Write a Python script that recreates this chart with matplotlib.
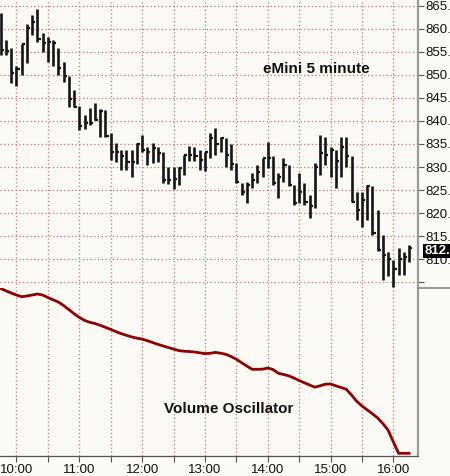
import numpy as np
import matplotlib.pyplot as plt
from matplotlib.lines import Line2D
from matplotlib.patches import Rectangle
from matplotlib.ticker import FixedLocator, FuncFormatter

# eMini 5 minute bars starting 09:45 (high / low / close)
highs = [863.4, 857.5, 855.7, 851.8, 856.6, 860.9, 862.9, 864.2, 859.0, 858.1,
         857.5, 855.9, 852.8, 849.7, 846.7, 843.2, 841.3, 842.7, 843.8, 842.5,
         842.4, 837.3, 835.2, 833.7, 833.6, 833.6, 835.3, 837.0, 834.4, 835.2,
         834.4, 833.3, 830.0, 830.0, 830.0, 832.6, 834.6, 834.4, 833.7, 833.3,
         837.3, 838.4, 836.6, 836.4, 835.0, 830.8, 826.5, 826.8, 828.7, 830.5,
         831.9, 835.5, 832.3, 828.7, 831.9, 830.5, 826.1, 828.7, 826.5, 824.0,
         830.8, 837.0, 836.5, 834.4, 833.7, 836.5, 836.5, 832.3, 824.5, 824.5,
         826.1, 825.8, 820.6, 815.3, 811.7, 809.9, 812.4, 811.7, 813.1]
lows = [854.3, 854.3, 848.2, 847.6, 850.0, 852.6, 858.6, 857.0, 854.9, 852.8,
        852.0, 850.0, 848.5, 843.0, 843.0, 838.0, 838.2, 839.1, 840.1, 836.6,
        836.5, 831.5, 831.2, 829.4, 829.4, 827.8, 830.7, 833.3, 830.5, 830.8,
        831.2, 826.5, 826.3, 825.3, 826.1, 828.2, 831.4, 831.4, 829.4, 829.2,
        831.9, 832.6, 833.3, 830.1, 829.4, 826.5, 824.0, 822.2, 825.4, 826.5,
        827.9, 829.7, 826.1, 823.3, 826.8, 825.8, 821.8, 822.2, 821.8, 818.9,
        821.1, 828.3, 830.5, 827.9, 825.4, 827.9, 830.1, 822.5, 818.6, 817.1,
        818.6, 815.3, 811.9, 805.6, 806.3, 804.1, 806.6, 806.6, 809.5]
closes = [855.4, 855.2, 850.4, 851.3, 856.6, 860.1, 861.5, 857.7, 856.9, 857.2,
          856.9, 851.4, 849.7, 844.7, 843.1, 838.8, 839.5, 839.5, 840.1, 842.2,
          836.8, 833.2, 833.2, 832.3, 831.2, 831.2, 835.0, 833.7, 833.3, 834.1,
          833.0, 827.1, 827.2, 827.4, 829.7, 832.6, 832.6, 832.3, 831.5, 833.3,
          836.2, 835.0, 836.2, 832.6, 830.6, 826.7, 824.6, 826.1, 827.1, 828.9,
          831.9, 832.0, 826.5, 827.8, 830.5, 826.1, 822.2, 824.7, 822.4, 821.6,
          830.0, 833.0, 832.6, 833.6, 831.4, 834.4, 832.3, 822.5, 820.6, 822.9,
          825.8, 815.8, 812.1, 810.9, 810.0, 807.9, 810.0, 810.6, 812.4]
osc = [167.5, 165.2, 163.0, 161.0, 159.3, 160.0, 161.0, 162.0, 161.0, 158.5,
       156.2, 154.0, 150.5, 146.5, 142.3, 138.6, 135.6, 133.7, 132.5, 130.7,
       128.7, 126.6, 124.4, 122.4, 120.7, 119.1, 117.9, 116.9, 115.3, 113.5,
       111.7, 110.1, 108.5, 107.0, 105.4, 104.8, 104.5, 104.0, 103.2, 102.4,
       102.7, 103.6, 102.8, 101.7, 99.5, 96.8, 93.3, 90.0, 86.7, 86.7,
       86.8, 88.0, 86.5, 82.8, 81.5, 80.2, 78.0, 75.5, 73.2, 71.0,
       68.8, 70.2, 71.8, 72.0, 70.2, 68.5, 66.8, 61.0, 54.7, 50.0,
       46.1, 42.2, 38.0, 32.4, 25.7, 14.0, 2.7, 2.7, 2.7]
price_ticks = [810, 815, 820, 825, 830, 835, 840, 845, 850, 855, 860, 865]
hour_labels = ['10:00', '11:00', '12:00', '13:00', '14:00', '15:00', '16:00']
last_price = 812.25

plt.rcParams['font.family'] = ['Liberation Sans', 'DejaVu Sans']

bg = '#fbfaf5'
grid_col = '#d27373'
spine_col = '#9a9a9a'

t = 9 * 60 + 45 + 5 * np.arange(len(closes))  # minutes of day
hours = [600 + 60 * k for k in range(len(hour_labels))]
halves = [630 + 60 * k for k in range(len(hour_labels))]

fig = plt.figure(figsize=(4.5, 4.76), dpi=100)
fig.patch.set_facecolor(bg)
ax = fig.add_axes([0, 188 / 476, 418 / 450, 288 / 476])
ax2 = fig.add_axes([0, 20 / 476, 418 / 450, 168 / 476], sharex=ax)

for a in (ax, ax2):
    a.set_facecolor(bg)
    for s in ['top', 'left', 'bottom']:
        a.spines[s].set_visible(False)
    a.spines['right'].set_color(spine_col)
    a.spines['right'].set_linewidth(1.6)
    a.xaxis.set_major_locator(FixedLocator(hours))
    a.xaxis.set_minor_locator(FixedLocator(halves))
    a.grid(True, which='both', axis='x', color=grid_col, linestyle=(0, (1, 2)), linewidth=0.9)

# price bars
ax.vlines(t, lows, highs, color='#151515', linewidth=1.9)
ax.hlines(closes, t, t + 3, color='#151515', linewidth=1.6)
ax.set_xlim(584.3, 983.5)
ax.set_ylim(803.8, 866.2)
ax.set_yticks(price_ticks + [805])
ax.yaxis.tick_right()
# the labels are cut by the window edge in the reference, only "865." shows
ax.yaxis.set_major_formatter(FuncFormatter(lambda v, p: '' if v == 805 else '%d.' % v))
ax.tick_params(axis='y', length=4, width=0.8, color='#555555', pad=1, labelsize=9.5, labelcolor='#111111')
ax.tick_params(axis='x', which='both', length=0, labelbottom=False)
ax.grid(True, axis='y', color=grid_col, linestyle=(0, (1, 2)), linewidth=0.9)
ax.set_axisbelow(True)

ax.text(316 / 418, 1 - 69 / 288, 'eMini 5 minute', transform=ax.transAxes,
        ha='center', va='center', fontsize=11, fontweight='bold', color='#111111')

# last price marker box
fig.add_artist(Rectangle((423 / 450, (476 - 257.5) / 476), 27 / 450, 13.5 / 476,
                         transform=fig.transFigure, fc='black', ec='none', zorder=5))
fig.text(425 / 450, (476 - 250.8) / 476, '%d.' % last_price, ha='left', va='center',
         fontsize=9.5, fontweight='bold', color='white', zorder=6)

# oscillator
ax2.plot(t, osc, color='#8b0000', linewidth=2)
ax2.set_ylim(0, 168)
ax2.set_yticks([])
ax2.spines['bottom'].set_visible(True)
ax2.spines['bottom'].set_color('#555555')
ax2.spines['bottom'].set_linewidth(0.9)
ax2.xaxis.set_major_formatter(FuncFormatter(lambda v, p: hour_labels[hours.index(int(round(v)))] if int(round(v)) in hours else ''))
ax2.tick_params(axis='x', which='both', direction='out', length=4, width=0.8, color='#555555')
ax2.tick_params(axis='x', which='major', labelsize=9.5, pad=2, labelcolor='#111111')
ax2.text(229 / 418, (456 - 409) / 168, 'Volume Oscillator', transform=ax2.transAxes,
         ha='center', va='center', fontsize=11, fontweight='bold', color='#111111')

fig.add_artist(Line2D([418 / 450, 1], [188 / 476, 188 / 476], color='#888888',
                      linewidth=1.2, transform=fig.transFigure))

fig.savefig('out.png', dpi=100, facecolor=bg)
